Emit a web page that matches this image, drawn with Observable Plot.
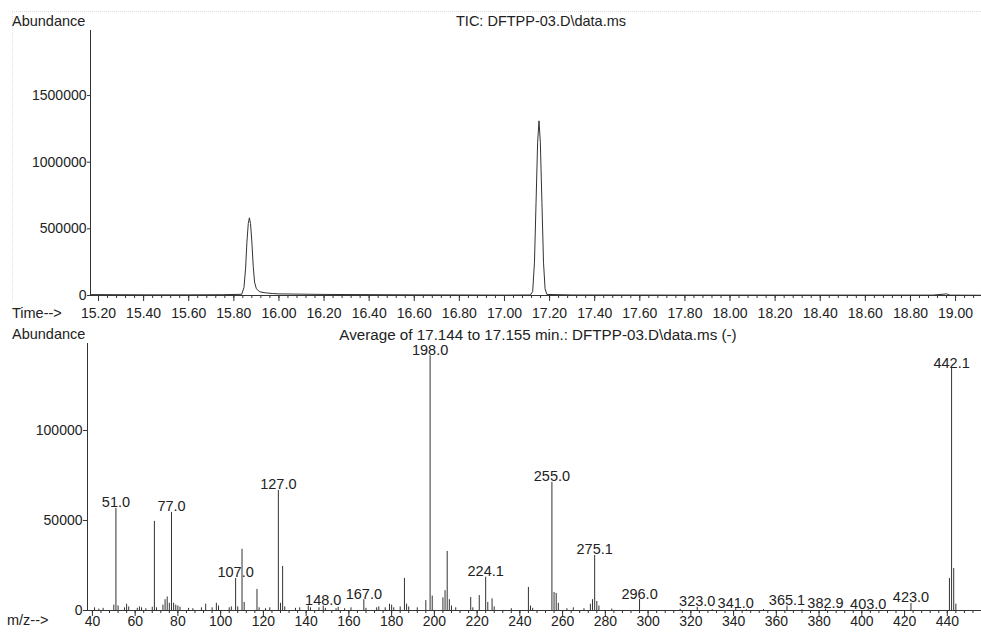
<!DOCTYPE html>
<html>
<head>
<meta charset="utf-8">
<script src="https://cdn.jsdelivr.net/npm/d3@7"></script>
<script src="https://cdn.jsdelivr.net/npm/@observablehq/plot@0.6"></script>
<style>
  body { margin: 0; background: #fff; }
  #wrap { position: relative; width: 981px; height: 638px; overflow: hidden; background: #fff;
          font-family: "Liberation Sans", Arial, sans-serif; color: #222; }
  #wrap svg { display: block; }
  .lbl { position: absolute; font-size: 14.5px; line-height: 1; white-space: nowrap; transform: translateY(-50%); }
  .ctr { transform: translate(-50%, -50%); }
  .edgeTop { position: absolute; left: 12px; right: 0; top: 11px; border-top: 1px dotted #dcdcdc; }
  .edgeLeft { position: absolute; left: 12px; top: 11px; height: 290px; border-left: 1px dotted #e4e4e4; }
</style>
</head>
<body>
<div id="wrap">
  <div id="top"></div>
  <div id="bot"></div>
  <div class="edgeTop"></div>
  <div class="edgeLeft"></div>
  <div class="lbl" style="left:12px; top:21px;">Abundance</div>
  <div class="lbl ctr" style="left:541px; top:21px;">TIC: DFTPP-03.D\data.ms</div>
  <div class="lbl" style="left:12px; top:313px;">Time--&gt;</div>
  <div class="lbl" style="left:12px; top:334px;">Abundance</div>
  <div class="lbl ctr" style="left:538px; top:335px; font-size:15.2px;">Average of 17.144 to 17.155 min.: DFTPP-03.D\data.ms (-)</div>
  <div class="lbl" style="left:7px; top:620px;">m/z--&gt;</div>
</div>
<script>
// ---- TIC chromatogram (time in min, abundance) ----
const ticTime = [15.1645, 15.30, 15.45, 15.60, 15.75, 15.835, 15.845, 15.852, 15.858, 15.864, 15.869,
  15.874, 15.880, 15.886, 15.892, 15.900, 15.915, 15.940, 15.970, 16.000, 16.200, 16.600, 17.000,
  17.115, 17.125, 17.133, 17.140, 17.147, 17.153, 17.159, 17.166, 17.173, 17.180, 17.188, 17.300,
  17.800, 18.400, 18.900, 18.960, 18.975, 19.115];
const ticAbundance = [7000, 6000, 5000, 5000, 6000, 9000, 60000, 200000, 400000, 540000, 583000,
  540000, 400000, 220000, 100000, 50000, 28000, 20000, 15000, 12000, 8000, 5000, 3000,
  4000, 30000, 250000, 700000, 1150000, 1310000, 1150000, 700000, 250000, 50000, 8000, 4000,
  3000, 3000, 3000, 12000, 3000, 2000];
const timeTicks = [15.2, 15.4, 15.6, 15.8, 16.0, 16.2, 16.4, 16.6, 16.8, 17.0, 17.2, 17.4,
  17.6, 17.8, 18.0, 18.2, 18.4, 18.6, 18.8, 19.0];
const ticYTicks = [0, 500000, 1000000, 1500000];

// ---- Mass spectrum (m/z, abundance) ----
const specMz = [41, 43, 45, 50, 51, 52, 55, 56, 57, 61, 62, 63, 65, 68, 69, 70, 73, 74, 75, 76, 77, 78,
  79, 80, 81, 85, 87, 91, 93, 96, 98, 99, 104, 105, 107, 108, 110, 111, 117, 118, 121, 123, 127, 128,
  129, 130, 135, 137, 141, 142, 146, 148, 149, 154, 155, 158, 161, 167, 168, 173, 174, 177, 179, 180,
  181, 184, 186, 187, 188, 192, 196, 198, 199, 204, 205, 206, 207, 208, 210, 217, 218, 221, 224, 225,
  227, 228, 236, 244, 245, 246, 255, 256, 257, 258, 262, 265, 270, 273, 274, 275, 276, 277, 283, 296,
  315, 323, 330, 341, 346, 354, 365, 372, 383, 403, 423, 441, 442, 443, 444];
const specAbundance = [1500, 800, 1200, 3000, 56700, 2500, 1500, 3500, 2000, 1200, 2000, 1500, 1000,
  1800, 49500, 1500, 3000, 6000, 7500, 4000, 54500, 4000, 3000, 2500, 1800, 1200, 1000, 1500, 3500,
  1500, 4000, 2500, 1500, 2000, 17800, 2000, 34000, 4500, 11700, 1500, 1000, 1500, 66700, 4000,
  24500, 2000, 1200, 1500, 2500, 1500, 1500, 2500, 1200, 1000, 1800, 1000, 1500, 6000, 1200, 1500,
  2000, 1500, 3500, 3000, 1500, 2000, 17800, 3500, 2000, 1500, 5500, 141500, 8000, 7000, 11000,
  32800, 6000, 2500, 1500, 7200, 1500, 8300, 18500, 4500, 6500, 2000, 1000, 12800, 2500, 1200,
  71200, 10000, 9500, 4000, 1000, 1500, 1000, 3500, 6000, 30600, 5000, 2500, 800, 6100,
  600, 1800, 500, 1000, 400, 500, 2500, 400, 800, 500, 3900, 17800, 134400, 23300, 3500];
const peakLabelMz = [51, 77, 107, 127, 148, 167, 198, 224, 255, 275, 296, 323, 341, 365, 383, 403, 423, 442];
const peakLabels = ["51.0", "77.0", "107.0", "127.0", "148.0", "167.0", "198.0", "224.1", "255.0",
  "275.1", "296.0", "323.0", "341.0", "365.1", "382.9", "403.0", "423.0", "442.1"];
const mzTicks = [40, 60, 80, 100, 120, 140, 160, 180, 200, 220, 240, 260, 280, 300, 320, 340,
  360, 380, 400, 420, 440];
const specYTicks = [0, 50000, 100000];

// ---- build tables ----
const tic = ticTime.map((t, i) => ({t, a: ticAbundance[i]}));
const spec = specMz.map((m, i) => ({m, a: specAbundance[i]}));
const labels = peakLabelMz.map((m, i) => ({m, text: peakLabels[i], a: spec.find(d => d.m === m).a}));
const minorTime = d3.range(379, 478).map(i => +(i * 0.04).toFixed(2));
const minorMz = d3.range(10, 115).map(i => i * 4);

const ink = "#333";
const txt = "#222";
const baseStyle = {fontFamily: "'Liberation Sans', Arial, sans-serif", fontSize: "14px", color: txt,
  background: "transparent", overflow: "visible"};

const tX0 = 15.1645, tX1 = 19.115;
const topPlot = Plot.plot({
  width: 981, height: 322,
  marginLeft: 90, marginRight: 0, marginTop: 30, marginBottom: 27,
  style: baseStyle,
  x: {domain: [tX0, tX1]},
  y: {domain: [0, 1988000]},
  marks: [
    Plot.ruleY([0], {stroke: ink}),
    Plot.ruleX([tX0], {stroke: ink}),
    Plot.line(tic, {x: "t", y: "a", stroke: ink, strokeWidth: 1}),
    Plot.axisX(minorTime.filter(d => d >= tX0 && d <= tX1), {anchor: "bottom", tickSize: 3, tickFormat: () => "", label: null, stroke: ink}),
    Plot.axisX(timeTicks, {anchor: "bottom", tickSize: 6, tickPadding: 7, tickFormat: d => d.toFixed(2), label: null, stroke: ink, fill: txt, fontSize: 14}),
    Plot.axisY(ticYTicks, {anchor: "left", tickSize: 3, tickPadding: 1, tickFormat: d => String(d), label: null, stroke: ink, fill: txt, fontSize: 14})
  ]
});

const mX0 = 37.7, mX1 = 456;
const botPlot = Plot.plot({
  width: 981, height: 316,
  marginLeft: 87, marginRight: 0, marginTop: 21, marginBottom: 28,
  style: baseStyle,
  x: {domain: [mX0, mX1]},
  y: {domain: [0, 148300]},
  marks: [
    Plot.ruleX(spec, {x: "m", y1: 0, y2: "a", stroke: ink, strokeWidth: 1}),
    Plot.ruleY([0], {stroke: ink}),
    Plot.ruleX([mX0], {stroke: ink}),
    Plot.text(labels, {x: "m", y: "a", text: "text", lineAnchor: "bottom", dy: -1, fontSize: 14.5, fill: txt}),
    Plot.axisX(minorMz.filter(d => d >= mX0 && d <= mX1), {anchor: "bottom", tickSize: 3, tickFormat: () => "", label: null, stroke: ink}),
    Plot.axisX(mzTicks, {anchor: "bottom", tickSize: 6, tickPadding: 0, tickFormat: d => String(d), label: null, stroke: ink, fill: txt, fontSize: 14}),
    Plot.axisY(specYTicks, {anchor: "left", tickSize: 4, tickPadding: 1, tickFormat: d => String(d), label: null, stroke: ink, fill: txt, fontSize: 14})
  ]
});

document.getElementById("top").appendChild(topPlot);
document.getElementById("bot").appendChild(botPlot);
</script>
</body>
</html>
